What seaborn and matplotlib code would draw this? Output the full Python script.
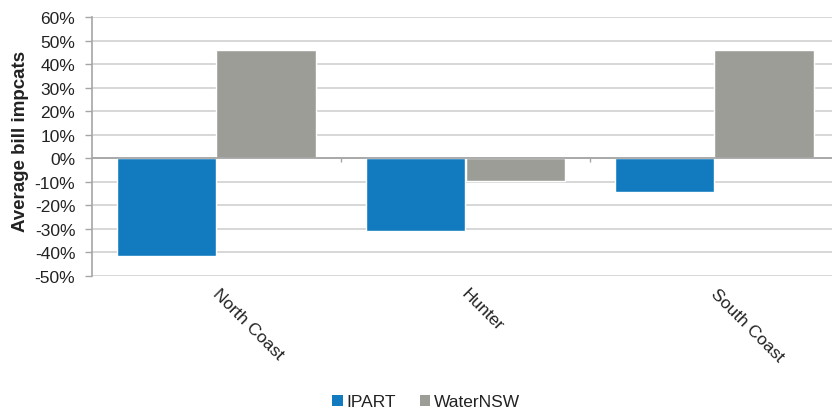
import matplotlib
matplotlib.use("Agg")
import matplotlib.pyplot as plt
from matplotlib.patches import Patch
from matplotlib.ticker import FuncFormatter, MultipleLocator
from matplotlib.transforms import ScaledTranslation
import seaborn as sns
import pandas as pd

categories = ["North Coast", "Hunter", "South Coast"]
series_names = ["IPART", "WaterNSW"]
ipart = [-41.5, -31.0, -14.3]
waternsw = [46.0, -9.5, 46.0]
colors = ["#127BC0", "#9D9D98"]

df = pd.DataFrame({
    "Region": categories * 2,
    "Series": [series_names[0]] * 3 + [series_names[1]] * 3,
    "Value": ipart + waternsw,
})

sns.set_theme(style="white")
plt.rcParams["font.family"] = ["Liberation Sans", "DejaVu Sans"]

fig = plt.figure(figsize=(8.32, 4.14), dpi=100)
ax = fig.add_axes([92 / 832, 1 - 277 / 414, 747 / 832, (277 - 18) / 414])

sns.barplot(data=df, x="Region", y="Value", hue="Series", palette=colors,
            order=categories, hue_order=series_names, width=0.8,
            saturation=1, ax=ax, legend=False, zorder=3)

ax.set_ylim(-50, 60)
ax.set_xlim(-0.5, len(categories) - 0.5)
ax.yaxis.set_major_locator(MultipleLocator(10))
ax.yaxis.set_major_formatter(FuncFormatter(lambda v, p: f"{v:.0f}%"))
ax.grid(axis="y", color="#d4d4d4", linewidth=1.3, zorder=0)
ax.set_axisbelow(True)

ax.axhline(0, color="#a6a6a6", linewidth=1.3, zorder=4)
bounds = [i + 0.5 for i in range(len(categories) - 1)]
ax.vlines(bounds, -1.6, 0, color="#a6a6a6", linewidth=1.0, zorder=4)

for s in ["top", "right", "bottom"]:
    ax.spines[s].set_visible(False)
ax.spines["left"].set_color("#a6a6a6")
ax.spines["left"].set_linewidth(1.2)

ax.tick_params(axis="y", which="major", left=True, length=5, width=1.0,
               color="#a6a6a6", labelsize=12.5, labelcolor="#222222", pad=7)
ax.tick_params(axis="x", length=0, labelsize=12.5, labelcolor="#222222", pad=7)
shift = ScaledTranslation(4 / 100, 0, fig.dpi_scale_trans)
for lab in ax.get_xticklabels():
    lab.set_rotation(-45)
    lab.set_ha("left")
    lab.set_va("top")
    lab.set_rotation_mode("anchor")
    lab.set_transform(lab.get_transform() + shift)

ax.set_xlabel("")
ax.set_ylabel("Average bill impcats", fontsize=13.5, fontweight="bold",
              color="#222222")
ax.yaxis.set_label_coords(-0.0843, 0.523)

handles = [Patch(facecolor=c, edgecolor="none", label=n)
           for c, n in zip(colors, series_names)]
fig.legend(handles=handles, loc="center", bbox_to_anchor=(0.512, 0.027),
           ncol=2, frameon=False, fontsize=12.5, handlelength=0.6,
           handleheight=0.6, handletextpad=0.2, columnspacing=1.4,
           labelcolor="#222222")

fig.savefig("out.png", dpi=100)
